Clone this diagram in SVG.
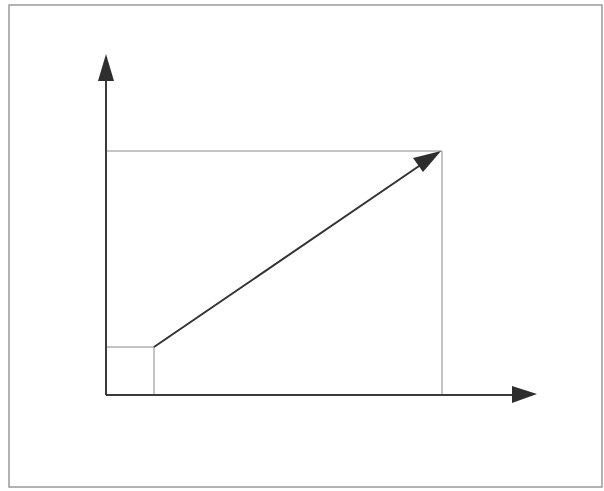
<svg xmlns="http://www.w3.org/2000/svg" width="604" height="491" viewBox="0 0 604 491">
<style>
.frame{fill:none;stroke:#9a9a9a;stroke-width:1.5}
.axis{fill:none;stroke:#3a3a3a;stroke-width:2}
.thin{fill:none;stroke:#8a8a8a;stroke-width:1}
.vec{fill:none;stroke:#333;stroke-width:2}
.head{fill:#2e2e2e}
</style>
<rect width="604" height="491" fill="#ffffff"/>
<rect class="frame" x="9" y="5" width="593" height="482"/>
<g id="guides">
<line class="thin" x1="106" y1="151" x2="442" y2="151"/>
<line class="thin" x1="442" y1="151" x2="442" y2="395"/>
<line class="thin" x1="106" y1="347" x2="154" y2="347"/>
<line class="thin" x1="154" y1="347" x2="154" y2="395"/>
</g>
<g id="connectors">
<line class="axis" x1="106" y1="395" x2="106" y2="76"/>
<polygon class="head" points="106,54 98,81 114,81"/>
<line class="axis" x1="106" y1="395" x2="516" y2="395"/>
<polygon class="head" points="537,394 512,386 512,403"/>
<line class="vec" x1="154" y1="347" x2="422" y2="164"/>
<polygon class="head" points="441,151 413,158 423,172"/>
</g>
</svg>
